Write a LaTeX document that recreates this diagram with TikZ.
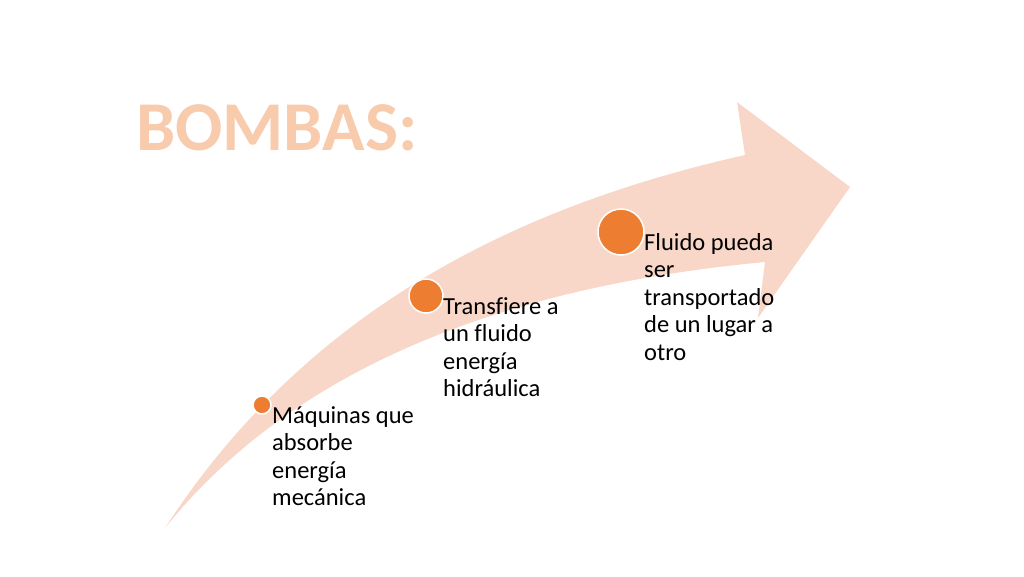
\documentclass[tikz,border=0pt]{standalone}
\usepackage{fontspec}
\setmainfont[Ligatures={NoCommon}]{Carlito}
\begin{document}
\begin{tikzpicture}[x=1pt,y=-1pt,
  dot/.style={circle,draw=white,line width=1.5pt,inner sep=0pt},
  lbl/.style={anchor=north west,inner sep=0pt,align=left,font=\fontsize{24.5}{27.5}\selectfont}]
\useasboundingbox (0,0) rectangle (1024,576);
\definecolor{arr}{RGB}{248,215,200}
\definecolor{dotc}{RGB}{237,125,49}
\definecolor{ttl}{RGB}{248,203,173}
\fill[arr] (165,528) .. controls (300,320) and (500,210) .. (745,155)
  -- (737,102) -- (850,187) -- (758,318) -- (765,262)
  .. controls (520,285) and (300,360) .. (165,528) -- cycle;
\node[anchor=west,inner sep=0pt,text=ttl,font=\fontsize{70}{74}\selectfont\bfseries] (title) at (136,128) {BOMBAS:};
\node[dot,fill=dotc,minimum size=18pt] (d1) at (262,405) {};
\node[dot,fill=dotc,minimum size=34pt] (d2) at (426,296) {};
\node[dot,fill=dotc,minimum size=46pt] (d3) at (621,232) {};
\node[lbl] (t1) at (272,406) {Máquinas que\\absorbe\\energía\\mecánica};
\node[lbl] (t2) at (443,297) {Transfiere a\\un fluido\\energía\\hidráulica};
\node[lbl] (t3) at (644,233) {Fluido pueda\\ser\\transportado\\de un lugar a\\otro};
\end{tikzpicture}
\end{document}
